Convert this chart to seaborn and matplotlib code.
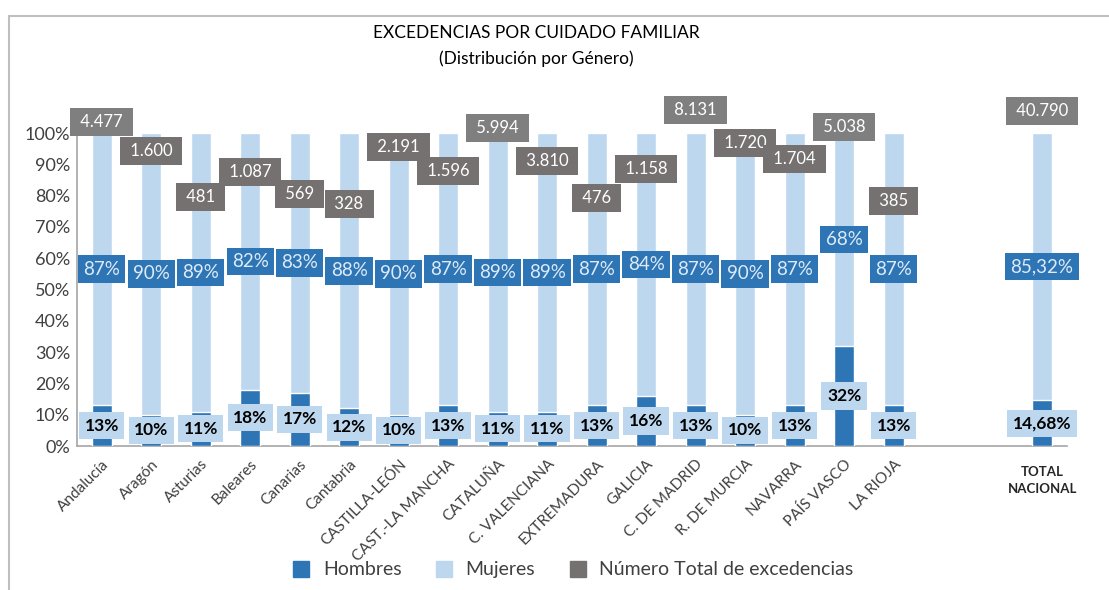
import numpy as np
import pandas as pd
import matplotlib
matplotlib.use('Agg')
import matplotlib.pyplot as plt
import seaborn as sns
from matplotlib.lines import Line2D
from matplotlib.ticker import PercentFormatter

regions = ['Andalucía', 'Aragón', 'Asturias', 'Baleares', 'Canarias', 'Cantabria',
           'CASTILLA-LEÓN', 'CAST.-LA MANCHA', 'CATALUÑA', 'C. VALENCIANA',
           'EXTREMADURA', 'GALICIA', 'C. DE MADRID', 'R. DE MURCIA', 'NAVARRA',
           'PAÍS VASCO', 'LA RIOJA', 'TOTAL NACIONAL']
hombres = [13, 10, 11, 18, 17, 12, 10, 13, 11, 11, 13, 16, 13, 10, 13, 32, 13, 14.68]
mujeres = [87, 90, 89, 82, 83, 88, 90, 87, 89, 89, 87, 84, 87, 90, 87, 68, 87, 85.32]
totales = [4477, 1600, 481, 1087, 569, 328, 2191, 1596, 5994, 3810, 476, 1158,
           8131, 1720, 1704, 5038, 385, 40790]
# height (in %) where the grey total label sits in the original chart
total_label_pos = [103.5, 94.2, 79.6, 87.5, 80.5, 77.3, 95.5, 87.9, 101.6, 91.1,
                   79.2, 88.5, 107.3, 96.8, 91.7, 101.9, 78.3, 107.0]

order = regions[:-1] + ['_gap1', '_gap2'] + regions[-1:]

c_h = '#2E75B6'
c_m = '#BDD7EE'
c_t = '#767171'
c_t2 = '#7F7F7F'

df = pd.DataFrame({'region': regions, 'hombres': hombres, 'mujeres': mujeres, 'total': totales})
df['suma'] = df['hombres'] + df['mujeres']


def fmt_pct(v):
    if float(v).is_integer():
        return f'{int(v)}%'
    return f'{v:.2f}%'.replace('.', ',')


sns.set_style('white')
plt.rcParams['font.family'] = ['Lato', 'DejaVu Sans']

fig = plt.figure(figsize=(11.09, 5.9), dpi=100)
ax = fig.add_axes([0.0694, 0.244, 0.8926, 0.5305])

sns.barplot(data=df, x='region', y='suma', order=order, color=c_m, saturation=1,
            width=0.4, ax=ax, zorder=2)
sns.barplot(data=df, x='region', y='hombres', order=order, color=c_h, saturation=1,
            width=0.4, ax=ax, zorder=3)

ax.set_ylim(0, 100)
ax.set_xlim(-0.5, len(order) - 0.5)
ax.set_yticks(np.arange(0, 101, 10))
ax.yaxis.set_major_formatter(PercentFormatter(decimals=0))
ax.tick_params(axis='y', length=0, labelsize=13, labelcolor='#404040', pad=5)
ax.set_xlabel('')
ax.set_ylabel('')

# category labels
xpos = {name: i for i, name in enumerate(order)}
ax.set_xticks(range(len(order)))
ax.set_xticklabels([r if (not r.startswith('_') and r != 'TOTAL NACIONAL') else '' for r in order],
                   rotation=45, ha='right', rotation_mode='anchor', fontsize=11, color='#404040')
ax.tick_params(axis='x', which='major', length=0, pad=8)
ax.set_xticks(np.arange(-0.5, len(order), 1), minor=True)
ax.tick_params(axis='x', which='minor', length=5, color='#A6A6A6', width=1)
ax.text(xpos['TOTAL NACIONAL'], -11, 'TOTAL\nNACIONAL', ha='center', va='center',
        fontsize=9.5, fontweight='bold', color='#262626', linespacing=1.5)

for s in ['top', 'right']:
    ax.spines[s].set_visible(False)
for s in ['left', 'bottom']:
    ax.spines[s].set_color('#A6A6A6')
    ax.spines[s].set_linewidth(1.2)

# data labels
for _, row in df.iterrows():
    x = xpos[row['region']]
    h, m = row['hombres'], row['mujeres']
    ax.text(x, h / 2, fmt_pct(h), ha='center', va='center', fontsize=12.5,
            fontweight='bold', color='black', zorder=5,
            bbox=dict(boxstyle='square,pad=0.32', fc=c_m, ec='none'))
    ax.text(x, h + m / 2, fmt_pct(m), ha='center', va='center', fontsize=13.5,
            color='#DEEBF7', zorder=5,
            bbox=dict(boxstyle='square,pad=0.28', fc=c_h, ec='none'))

for i, row in df.iterrows():
    x = xpos[row['region']]
    y = total_label_pos[i]
    lab = f"{row['total']:,}".replace(',', '.')
    ax.text(x, y, f' {lab} ', ha='center', va='center', fontsize=12,
            color='white', zorder=6, clip_on=False,
            bbox=dict(boxstyle='square,pad=0.35', fc=c_t2 if y > 100 else c_t, ec='none'))

fig.text(0.484, 0.944, 'EXCEDENCIAS POR CUIDADO FAMILIAR', ha='center', va='center',
         fontsize=12.5, color='black')
fig.text(0.484, 0.901, '(Distribución por Género)', ha='center', va='center',
         fontsize=12.5, color='black')

handles = [Line2D([], [], marker='s', linestyle='none', markersize=11, color=c)
           for c in [c_h, c_m, c_t]]
fig.legend(handles, ['Hombres', 'Mujeres', 'Número Total de excedencias'],
           loc='center', bbox_to_anchor=(0.512, 0.034), ncol=3, frameon=False,
           fontsize=14, handletextpad=0.1, columnspacing=1.2, labelcolor='#404040')

# chart border (left and top)
fig.add_artist(Line2D([9 / 1109, 9 / 1109], [0, 1 - 16 / 590], color='#BFBFBF', lw=1.5))
fig.add_artist(Line2D([9 / 1109, 1], [1 - 16 / 590, 1 - 16 / 590], color='#BFBFBF', lw=1.5))

fig.savefig('out.png', dpi=100)
